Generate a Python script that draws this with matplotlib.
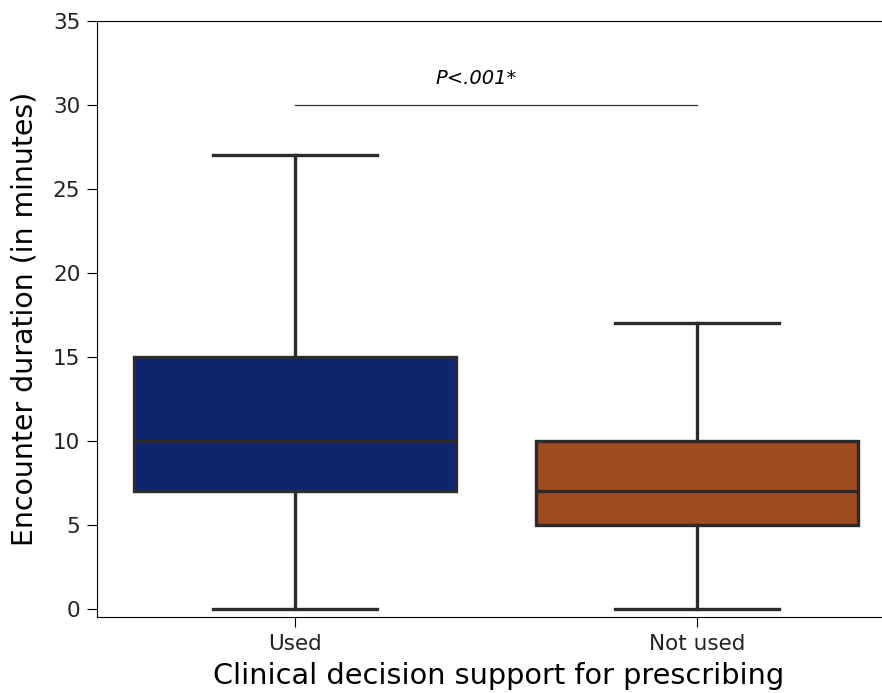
import matplotlib
matplotlib.use("Agg")
import matplotlib.pyplot as plt

# box summary values
groups = ["Used", "Not used"]
whis_low = [0, 0]
q1 = [7, 5]
medians = [10, 7]
q3 = [15, 10]
whis_high = [27, 17]
colors = ["#0e2570", "#a04a20"]
p_text = "P<.001*"
p_line_y = 30

stats = []
for i, g in enumerate(groups):
    stats.append({"label": g, "whislo": whis_low[i], "q1": q1[i], "med": medians[i],
                  "q3": q3[i], "whishi": whis_high[i], "fliers": []})

fig = plt.figure(figsize=(8.82, 6.93), dpi=100)
ax = fig.add_axes([97 / 882, 76 / 693, 804 / 882, 596 / 693])

lc = "#2b2b2b"
lw = 2.4
bp = ax.bxp(stats, positions=range(len(groups)), widths=0.8, patch_artist=True,
            showfliers=False,
            boxprops=dict(edgecolor=lc, linewidth=lw),
            medianprops=dict(color=lc, linewidth=lw),
            whiskerprops=dict(color=lc, linewidth=lw),
            capprops=dict(color=lc, linewidth=lw),
            capwidths=0.41)
for patch, c in zip(bp["boxes"], colors):
    patch.set_facecolor(c)

ax.plot([0, 1], [p_line_y, p_line_y], color="#333333", linewidth=0.9)
ax.text(0.45, p_line_y + 1.0, p_text, ha="center", va="bottom", fontsize=14, style="italic")

ax.set_xlim(-0.4925, 1.5075)
ax.set_ylim(-0.48, 35)
ax.set_yticks(range(0, 36, 5))
ax.tick_params(labelsize=15.5, length=7, pad=5, labelcolor="#222222")
ax.set_xlabel("Clinical decision support for prescribing", fontsize=20.7, labelpad=6)
ax.set_ylabel("Encounter duration (in minutes)", fontsize=20.4, labelpad=10)

fig.savefig("out.png", dpi=100)
